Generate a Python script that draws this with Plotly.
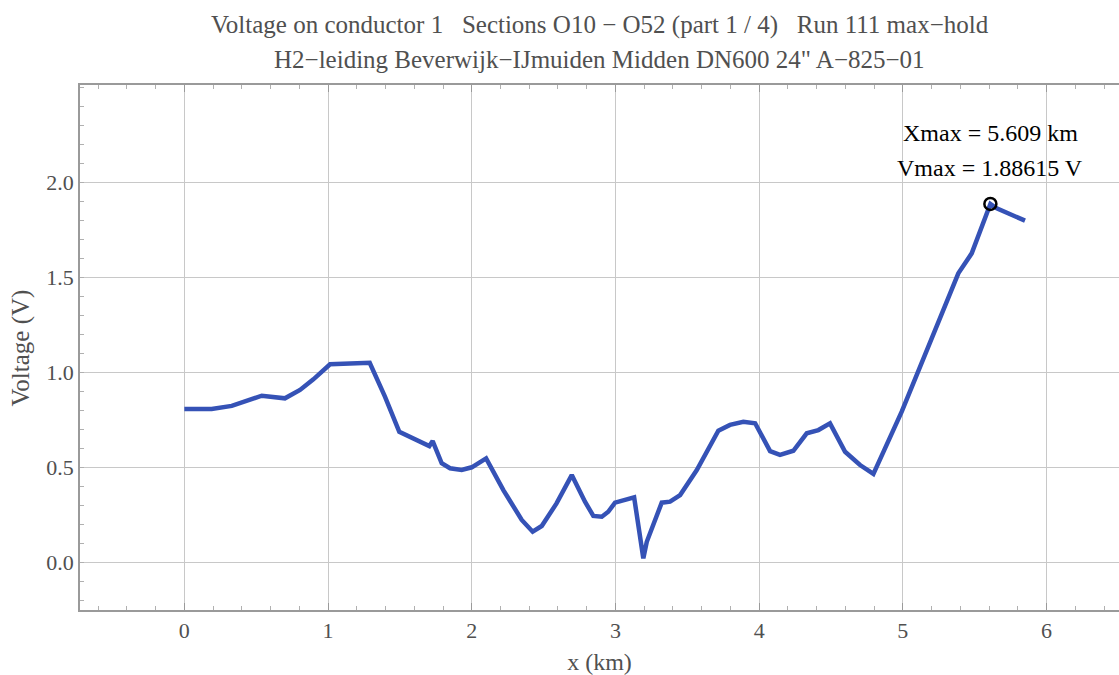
import plotly.graph_objects as go

x_km = [0.0, 0.19, 0.33, 0.434, 0.539, 0.70, 0.805, 0.898, 1.014, 1.29, 1.396, 1.496,
        1.617, 1.705, 1.728, 1.791, 1.849, 1.93, 2.0, 2.10, 2.22, 2.348, 2.424, 2.487,
        2.59, 2.696, 2.788, 2.846, 2.905, 2.95, 2.997, 3.13, 3.194, 3.218, 3.322, 3.38,
        3.45, 3.566, 3.716, 3.797, 3.89, 3.972, 4.076, 4.145, 4.238, 4.331, 4.412, 4.493,
        4.598, 4.702, 4.795, 4.992, 5.386, 5.479, 5.609, 5.653, 5.85]
voltage = [0.807, 0.807, 0.823, 0.849, 0.877, 0.863, 0.907, 0.963, 1.042, 1.05, 0.872, 0.687,
           0.644, 0.612, 0.638, 0.521, 0.495, 0.486, 0.50, 0.547, 0.38, 0.223, 0.161, 0.191,
           0.31, 0.459, 0.319, 0.244, 0.24, 0.266, 0.314, 0.342, 0.021, 0.108, 0.314, 0.319,
           0.354, 0.486, 0.693, 0.723, 0.74, 0.732, 0.585, 0.565, 0.587, 0.679, 0.696, 0.731,
           0.582, 0.512, 0.465, 0.793, 1.521, 1.626, 1.88615, 1.863, 1.798]

x_max = 5.609
v_max = 1.88615

x_ticks = [0, 1, 2, 3, 4, 5, 6]
y_ticks = [0.0, 0.5, 1.0, 1.5, 2.0]

title1 = "Voltage on conductor 1   Sections O10 \u2212 O52 (part 1 / 4)   Run 111 max\u2212hold"
title2 = "H2\u2212leiding Beverwijk\u2212IJmuiden Midden DN600 24\" A\u2212825\u221201"
x_title = "x (km)"
y_title = "Voltage (V)"

FONT = "Liberation Serif"
GRAY = "#505050"

fig = go.Figure()
fig.add_trace(go.Scatter(x=x_km, y=voltage, mode="lines",
                         line=dict(color="#3552b6", width=4.5), showlegend=False))
fig.add_trace(go.Scatter(x=[x_max], y=[v_max], mode="markers",
                         marker=dict(symbol="circle-open", size=12, color="black",
                                     line=dict(width=2.5, color="black")),
                         showlegend=False))

fig.add_annotation(x=0.5, y=1.114, xref="paper", yref="paper", text=title1,
                   showarrow=False, font=dict(family=FONT, size=25, color=GRAY),
                   xanchor="center", yanchor="middle")
fig.add_annotation(x=0.5, y=1.048, xref="paper", yref="paper", text=title2,
                   showarrow=False, font=dict(family=FONT, size=25, color=GRAY),
                   xanchor="center", yanchor="middle")
fig.add_annotation(x=-0.0568, y=0.5, xref="paper", yref="paper", text=y_title,
                   textangle=-90, showarrow=False,
                   font=dict(family=FONT, size=25, color=GRAY),
                   xanchor="center", yanchor="middle")
fig.add_annotation(x=x_max, y=2.26, xref="x", yref="y",
                   text=f"Xmax = {x_max} km", showarrow=False,
                   font=dict(family=FONT, size=24, color="black"),
                   xanchor="center", yanchor="middle")
fig.add_annotation(x=x_max, y=2.075, xref="x", yref="y",
                   text=f"Vmax = {v_max} V", showarrow=False,
                   font=dict(family=FONT, size=24, color="black"),
                   xanchor="center", yanchor="middle")

fig.update_layout(
    width=1119, height=675,
    margin=dict(l=80, r=0, t=85, b=65),
    paper_bgcolor="white", plot_bgcolor="white",
    font=dict(family=FONT, size=22, color=GRAY),
)
fig.update_xaxes(
    automargin=False,
    range=[-0.726, 6.504], tickvals=x_ticks, ticktext=[str(v) for v in x_ticks],
    showgrid=True, gridcolor="#c8c8c8", gridwidth=1, zeroline=False,
    showline=True, linecolor="#9a9a9a", linewidth=1.5, mirror="ticks",
    ticks="inside", ticklen=7, tickcolor="#9a9a9a",
    minor=dict(dtick=0.2, ticks="inside", ticklen=4, tickcolor="#b0b0b0", showgrid=False),
    tickfont=dict(family=FONT, size=22, color=GRAY),
    title=dict(text=x_title, font=dict(family=FONT, size=24, color=GRAY), standoff=12),
)
fig.update_yaxes(
    automargin=False,
    range=[-0.251, 2.512], tickvals=y_ticks, ticktext=[f"{v:.1f}" for v in y_ticks],
    showgrid=True, gridcolor="#c8c8c8", gridwidth=1, zeroline=False,
    showline=True, linecolor="#9a9a9a", linewidth=1.5, mirror=True,
    ticks="",
    minor=dict(dtick=0.1, ticks="inside", ticklen=4, tickcolor="#b0b0b0", showgrid=False),
    tickfont=dict(family=FONT, size=22, color=GRAY),
)

fig.write_html("out.html", config={"displayModeBar": False},
               post_script="document.body.style.margin='0';")
